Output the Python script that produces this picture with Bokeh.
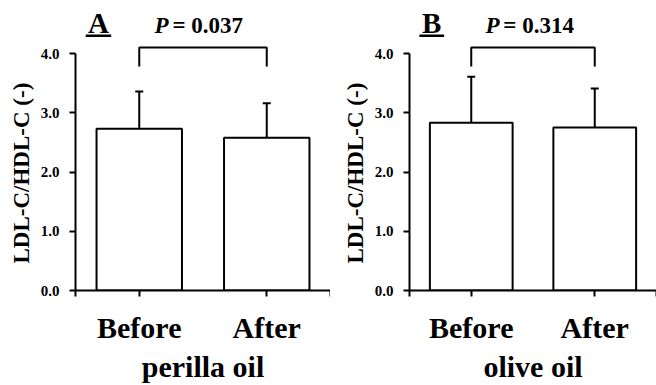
from bokeh.plotting import figure
from bokeh.models import Range1d, FixedTicker, ColumnDataSource, Whisker, TeeHead, Title
from bokeh.layouts import row
from bokeh.embed import file_html
from bokeh.resources import INLINE
from bokeh.core.properties import value

# ---- data ----
categories = ["Before", "After"]
perilla_mean = [2.73, 2.58]
perilla_sd = [0.63, 0.58]
olive_mean = [2.83, 2.75]
olive_sd = [0.78, 0.66]
panel_letters = ["A", "B"]
p_values = ["0.037", "0.314"]
group_names = ["perilla oil", "olive oil"]
y_ticks = [0, 1, 2, 3, 4]
y_tick_labels = ["0.0", "1.0", "2.0", "3.0", "4.0"]
y_label = "LDL-C/HDL-C (-)"

FONT = "Liberation Serif"


def make_panel(means, sds, letter, pval, group, width, left):
    p = figure(width=width, height=385, output_backend="svg", toolbar_location=None,
               x_range=Range1d(0, 2), y_range=Range1d(0, 4.895),
               min_border_left=left, min_border_right=0, min_border_top=0,
               min_border_bottom=95)
    p.outline_line_color = None
    p.grid.visible = False
    p.background_fill_color = "white"

    xs = [i + 0.5 for i in range(len(categories))]
    src = ColumnDataSource(dict(x=xs, top=means,
                                upper=[m + s for m, s in zip(means, sds)],
                                lower=[m - s for m, s in zip(means, sds)]))
    p.vbar(x="x", top="top", bottom=0, width=0.67, source=src,
           fill_color="white", line_color="black", line_width=2)
    w = Whisker(base="x", upper="upper", lower="lower", source=src,
                line_color="black", line_width=2,
                upper_head=TeeHead(size=8, line_width=2, line_color="black"),
                lower_head=TeeHead(size=8, line_width=2, line_color="black"))
    p.add_layout(w)

    # significance bracket
    by, bdrop = 4.10, 3.78
    p.line(x=[xs[0], xs[0], xs[1], xs[1]], y=[bdrop, by, by, bdrop],
           line_color="black", line_width=2)

    # texts on top
    mid = (xs[0] + xs[1]) / 2
    p.text(x=[mid - 0.27], y=[4.48], text=["P"], text_font=value(FONT),
           text_font_style="bold italic", text_font_size="23px",
           text_align="right", text_baseline="middle", text_color="black")
    p.text(x=[mid - 0.24], y=[4.48], text=["= " + pval], text_font=value(FONT),
           text_font_style="bold", text_font_size="23px",
           text_align="left", text_baseline="middle", text_color="black")
    lx = 0.18
    p.text(x=[lx], y=[4.52], text=[letter], text_font=value(FONT),
           text_font_style="bold", text_font_size="29px",
           text_align="center", text_baseline="middle", text_color="black")
    p.line(x=[lx - 0.1, lx + 0.1], y=[4.30, 4.30], line_color="black", line_width=2.5)

    # y axis title, placed along the 0-4 span of the axis
    p.add_layout(Title(text=y_label, align="left", offset=27, standoff=8,
                       text_font=FONT, text_font_style="bold", text_font_size="23px",
                       text_color="black"), "left")

    # axes
    xa = p.xaxis[0]
    xa.ticker = FixedTicker(ticks=[0, 0.5, 1.5, 2])
    xa.major_label_overrides = {0: "", 0.5: categories[0], 1.5: categories[1], 2: ""}
    xa.major_tick_in = 0
    xa.major_tick_out = 6
    xa.minor_tick_line_color = None
    xa.axis_line_width = 2
    xa.major_tick_line_width = 2
    xa.major_label_text_font = FONT
    xa.major_label_text_font_style = "bold"
    xa.major_label_text_font_size = "30px"
    xa.major_label_text_color = "black"
    xa.major_label_standoff = 14
    xa.axis_label = group
    xa.axis_label_text_font = FONT
    xa.axis_label_text_font_style = "bold"
    xa.axis_label_text_font_size = "30px"
    xa.axis_label_text_color = "black"
    xa.axis_label_standoff = 3
    xa.bounds = (0, 2)

    ya = p.yaxis[0]
    ya.ticker = FixedTicker(ticks=y_ticks)
    ya.major_label_overrides = {t: l for t, l in zip(y_ticks, y_tick_labels)}
    ya.bounds = (0, 4)
    ya.major_tick_in = 0
    ya.major_tick_out = 6
    ya.minor_tick_line_color = None
    ya.axis_line_width = 2
    ya.major_tick_line_width = 2
    ya.major_label_text_font = FONT
    ya.major_label_text_font_style = "bold"
    ya.major_label_text_font_size = "15px"
    ya.major_label_text_color = "black"
    ya.major_label_standoff = 10
    return p


pa = make_panel(perilla_mean, perilla_sd, panel_letters[0], p_values[0], group_names[0], 330, 75)
pb = make_panel(olive_mean, olive_sd, panel_letters[1], p_values[1], group_names[1], 326, 79)
layout = row(pa, pb, spacing=0)
open("out.html", "w").write(file_html(layout, INLINE))
